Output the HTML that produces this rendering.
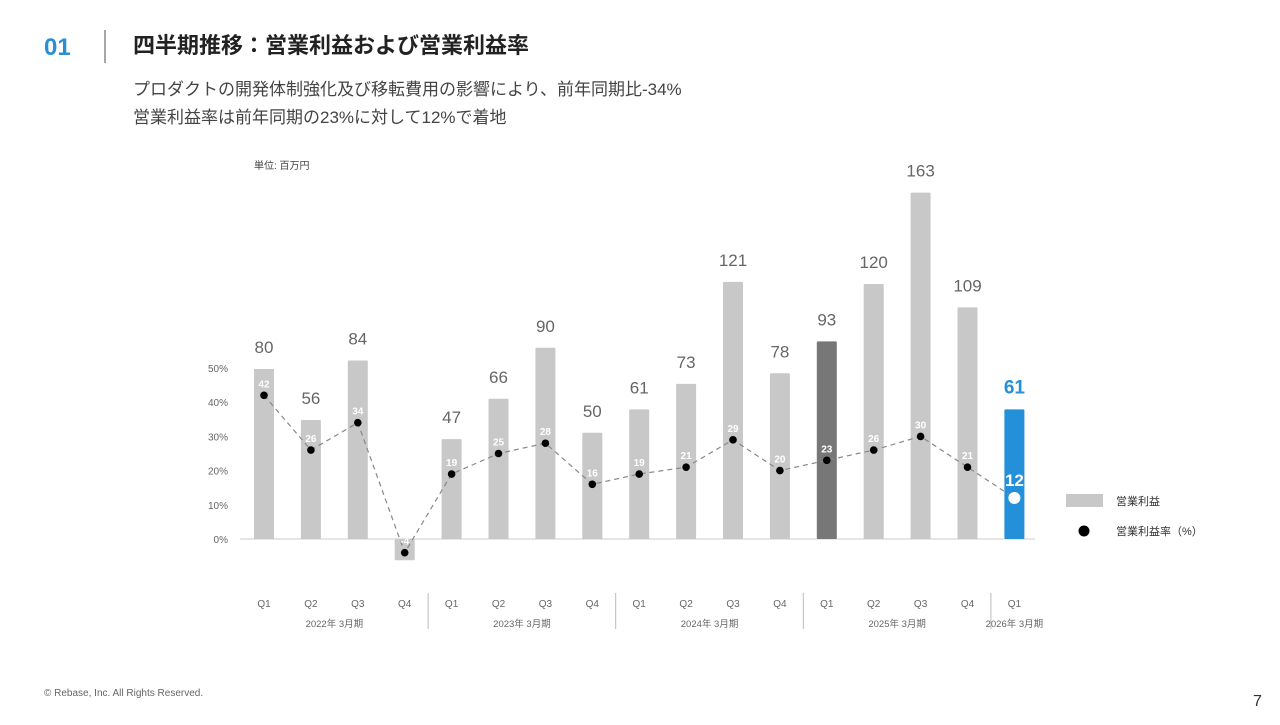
<!DOCTYPE html>
<html><head><meta charset="utf-8"><style>
body{margin:0;width:1280px;height:720px;background:#fff;overflow:hidden;font-family:"Liberation Sans","Noto Sans CJK JP",sans-serif;}
svg text{font-family:"Liberation Sans","Noto Sans CJK JP",sans-serif;}
</style></head><body>
<svg id="c" width="1280" height="720" xmlns="http://www.w3.org/2000/svg">
<text x="44" y="55" font-size="24" font-weight="bold" fill="#2a8fd0">01</text>
<line x1="105" y1="30" x2="105" y2="63" stroke="#888" stroke-width="1.5"/>
<text x="133" y="53" font-size="22" font-weight="bold" fill="#222">四半期推移：営業利益および営業利益率</text>
<text x="133" y="95" font-size="17" fill="#444">プロダクトの開発体制強化及び移転費用の影響により、前年同期比-34%</text>
<text x="133" y="123" font-size="17" fill="#444">営業利益率は前年同期の23%に対して12%で着地</text>
<text x="254" y="169" font-size="10" fill="#444">単位: 百万円</text>
<text x="44" y="696" font-size="10" fill="#666">© Rebase, Inc. All Rights Reserved.</text>
<text x="1253" y="706" font-size="16" fill="#333">7</text>
<g id="chart"></g>
</svg>
<script>
const quarters=["Q1","Q2","Q3","Q4","Q1","Q2","Q3","Q4","Q1","Q2","Q3","Q4","Q1","Q2","Q3","Q4","Q1"];
const fiscalYears=["2022年 3月期","2023年 3月期","2024年 3月期","2025年 3月期","2026年 3月期"];
const profit=[80,56,84,-10,47,66,90,50,61,73,121,78,93,120,163,109,61];
const profitLabels=["80","56","84","","47","66","90","50","61","73","121","78","93","120","163","109","61"];
const margin=[42,26,34,-4,19,25,28,16,19,21,29,20,23,26,30,21,12];
const rateTicks=[0,10,20,30,40,50];
const NS="http://www.w3.org/2000/svg";
const g=document.getElementById('chart');
const base=539;
const x=i=>264+i*46.9;
const yP=v=>base-v*2.125;
const yR=v=>base-v*3.42;
function mk(t,a,p){const e=document.createElementNS(NS,t);for(const k in a)e.setAttribute(k,a[k]);(p||g).appendChild(e);return e;}
rateTicks.forEach(t=>{
 const e=mk('text',{x:228,y:yR(t)+4,'font-size':10,fill:'#666','text-anchor':'end'});e.textContent=t+'%';
 
 
});
const ax=mk('line',{x1:240,y1:base,x2:1035,y2:base,stroke:'#ccc','stroke-width':1});


profit.forEach((v,i)=>{
 const last=i===profit.length-1;
 const fill=last?'#2390d9':(i===12?'#777':'#c8c8c8');
 const top=Math.min(yP(v),base),h=Math.abs(yP(v)-base);
 const b=mk('rect',{x:x(i)-10,y:top,width:20,height:h,fill:fill,rx:1});
 
 
 if(profitLabels[i]){
  const t=mk('text',{x:x(i),y:yP(v)-16,'font-size':last?19:17,'font-weight':last?'bold':'normal',fill:last?'#2390d9':'#666','text-anchor':'middle'});
  t.textContent=profitLabels[i];
  
  
 }
 const q=mk('text',{x:x(i),y:607,'font-size':10,fill:'#666','text-anchor':'middle'});q.textContent=quarters[i];
 
 
});
fiscalYears.forEach((fy,k)=>{
 const i0=k*4,i1=Math.min(k*4+3,quarters.length-1);
 const t=mk('text',{x:(x(i0)+x(i1))/2,y:627,'font-size':9.5,fill:'#666','text-anchor':'middle'});t.textContent=fy;
 
 
 if(k>0){const l=mk('line',{x1:x(i0)-23.5,y1:593,x2:x(i0)-23.5,y2:629,stroke:'#bbb','stroke-width':1});
 
 }
});
const pl=mk('polyline',{points:margin.map((v,i)=>x(i)+','+yR(v)).join(' '),fill:'none',stroke:'#888','stroke-width':1.2,'stroke-dasharray':'5,4'});


margin.forEach((v,i)=>{
 const last=i===margin.length-1;
 const d=mk('circle',{cx:x(i),cy:yR(v),r:last?6:3.8,fill:last?'#fff':'#000'});
 
 
 const t=mk('text',{x:x(i),y:yR(v)-(last?12:8),'font-size':last?17:10,'font-weight':'bold',fill:'#fff','text-anchor':'middle'});
 t.textContent=v;
 
 
});
const lr=mk('rect',{x:1066,y:494,width:37,height:13,fill:'#c8c8c8'});


const lt=mk('text',{x:1116,y:505,'font-size':11,fill:'#333'});lt.textContent='営業利益';


const lc=mk('circle',{cx:1084,cy:531,r:5.5,fill:'#000'});


const lt2=mk('text',{x:1116,y:535,'font-size':11,fill:'#333'});lt2.textContent='営業利益率（%）';


</script>
</body></html>
